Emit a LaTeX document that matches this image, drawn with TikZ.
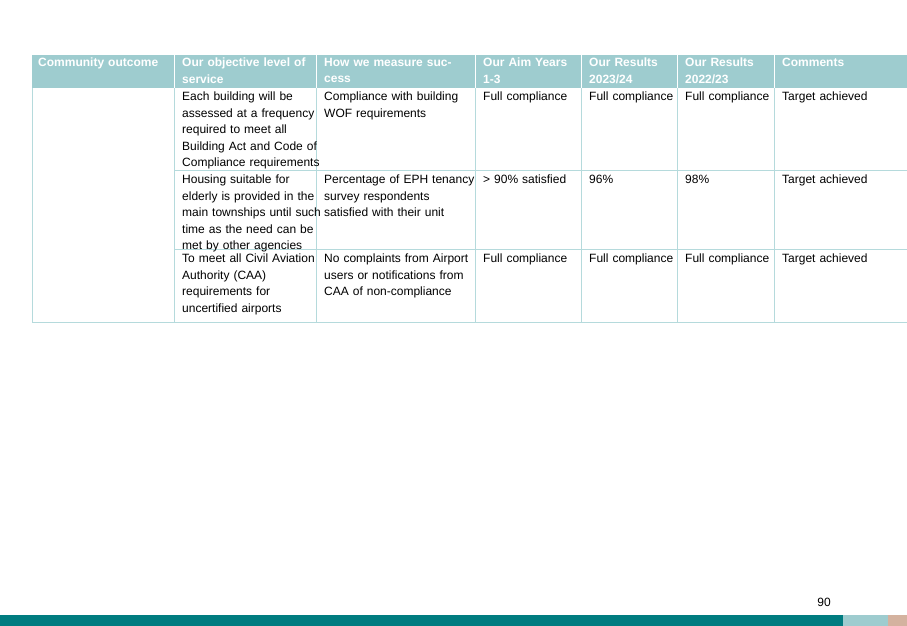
\documentclass[tikz,border=0pt]{standalone}
\usepackage{fontspec}
\setmainfont{Liberation Sans}
\definecolor{hdr}{HTML}{9ECCCF}
\definecolor{grid}{HTML}{B5DADC}
\definecolor{teal}{HTML}{007C80}
\definecolor{tan}{HTML}{D4B29F}
\tikzset{cell/.style={anchor=north west,inner sep=0pt,align=left,font=\fontsize{12}{16.5}\selectfont,text width=#1},
hcell/.style={cell=#1,text=white,font=\fontsize{12}{16.5}\selectfont\bfseries}}
\begin{document}
\begin{tikzpicture}[x=1pt,y=-1pt]
\useasboundingbox (0,0) rectangle (907,626);
\fill[white] (0,0) rectangle (907,626);
\fill[hdr] (32,55) rectangle (907,88);
\foreach \x in {174,316,475,581,677,774}{\draw[white,line width=1pt] (\x,55)--(\x,88);}
\draw[grid] (32,88)--(32,322);
\foreach \x in {174,316,475,581,677,774}{\draw[grid] (\x,88)--(\x,322);}
\foreach \y in {170,249}{\draw[grid] (174,\y)--(907,\y);}
\draw[grid] (32,322)--(907,322);
\node[hcell=135pt] (h1) at (38,58) {Community outcome};
\node[hcell=135pt] (h2) at (182,58) {Our objective level of service};
\node[hcell=150pt] (h3) at (324,58) {How we measure success};
\node[hcell=95pt] (h4) at (483,58) {Our Aim Years 1-3};
\node[hcell=90pt] (h5) at (589,58) {Our Results 2023/24};
\node[hcell=90pt] (h6) at (685,58) {Our Results 2022/23};
\node[hcell=120pt] (h7) at (782,58) {Comments};
\node[cell=140pt] (a2) at (182,92) {Each building will be\\assessed at a frequency\\required to meet all\\Building Act and Code of\\Compliance requirements};
\node[cell=155pt] (a3) at (324,92) {Compliance with building\\WOF requirements};
\node[cell=100pt] (a4) at (483,92) {Full compliance};
\node[cell=100pt] (a5) at (589,92) {Full compliance};
\node[cell=100pt] (a6) at (685,92) {Full compliance};
\node[cell=120pt] (a7) at (782,92) {Target achieved};
\node[cell=140pt] (b2) at (182,175) {Housing suitable for\\elderly is provided in the\\main townships until such\\time as the need can be\\met by other agencies};
\node[cell=155pt] (b3) at (324,175) {Percentage of EPH tenancy\\survey respondents\\satisfied with their unit};
\node[cell=100pt] (b4) at (483,175) {> 90\% satisfied};
\node[cell=100pt] (b5) at (589,175) {96\%};
\node[cell=100pt] (b6) at (685,175) {98\%};
\node[cell=120pt] (b7) at (782,175) {Target achieved};
\node[cell=140pt] (c2) at (182,254) {To meet all Civil Aviation\\Authority (CAA)\\requirements for\\uncertified airports};
\node[cell=155pt] (c3) at (324,254) {No complaints from Airport\\users or notifications from\\CAA of non-compliance};
\node[cell=100pt] (c4) at (483,254) {Full compliance};
\node[cell=100pt] (c5) at (589,254) {Full compliance};
\node[cell=100pt] (c6) at (685,254) {Full compliance};
\node[cell=120pt] (c7) at (782,254) {Target achieved};
\node[font=\fontsize{12}{14}\selectfont] (pg) at (824,602) {90};
\fill[teal] (0,615) rectangle (843,626);
\fill[hdr] (843,615) rectangle (888,626);
\fill[tan] (888,615) rectangle (907,626);
\end{tikzpicture}
\end{document}
